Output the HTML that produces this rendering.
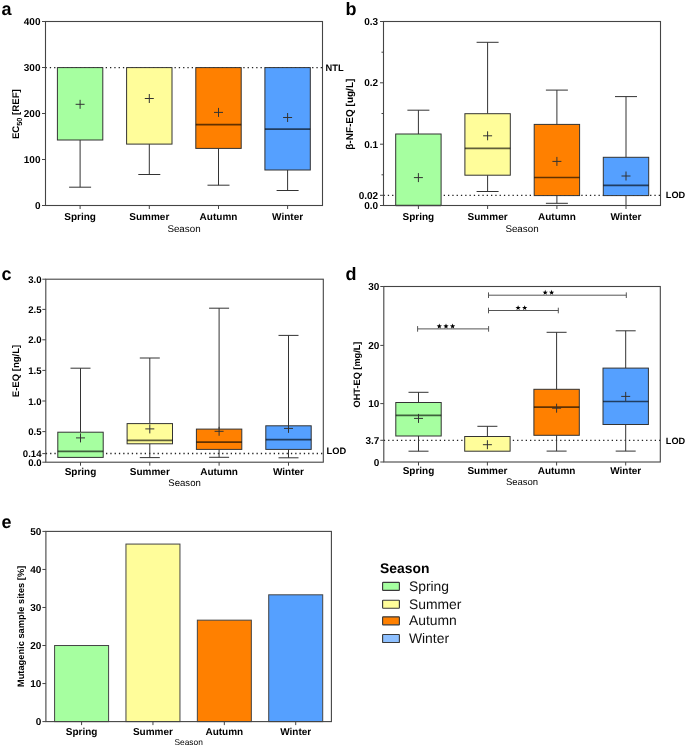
<!DOCTYPE html>
<html><head><meta charset="utf-8"><title>Seasonal comparison</title>
<style>
html,body{margin:0;padding:0;background:#fff;}
svg{display:block;font-family:"Liberation Sans", sans-serif;-webkit-font-smoothing:antialiased;will-change:transform;text-rendering:geometricPrecision;}
</style></head>
<body>
<svg width="685" height="746" viewBox="0 0 685 746">
<rect width="685" height="746" fill="#fff"/>
<line x1="45.5" y1="67.6" x2="322.5" y2="67.6" stroke="#222" stroke-width="1.3" stroke-dasharray="1.3 3" />
<line x1="80.1" y1="140" x2="80.1" y2="187.2" stroke="#333" stroke-width="1" />
<line x1="69.1" y1="187.2" x2="91.1" y2="187.2" stroke="#333" stroke-width="1" />
<rect x="57.4" y="67.6" width="45.4" height="72.4" fill="#A6FFA0" stroke="#333" stroke-width="1"/>
<line x1="75.6" y1="104.3" x2="84.6" y2="104.3" stroke="#333" stroke-width="1" />
<line x1="80.1" y1="99.8" x2="80.1" y2="108.8" stroke="#333" stroke-width="1" />
<line x1="149.3" y1="144.1" x2="149.3" y2="174.5" stroke="#333" stroke-width="1" />
<line x1="138.3" y1="174.5" x2="160.3" y2="174.5" stroke="#333" stroke-width="1" />
<rect x="126.6" y="67.6" width="45.4" height="76.5" fill="#FFFD9A" stroke="#333" stroke-width="1"/>
<line x1="144.8" y1="98.5" x2="153.8" y2="98.5" stroke="#333" stroke-width="1" />
<line x1="149.3" y1="94" x2="149.3" y2="103" stroke="#333" stroke-width="1" />
<line x1="218.5" y1="148.4" x2="218.5" y2="185.2" stroke="#333" stroke-width="1" />
<line x1="207.5" y1="185.2" x2="229.5" y2="185.2" stroke="#333" stroke-width="1" />
<rect x="195.8" y="67.6" width="45.4" height="80.8" fill="#FF8000" stroke="#333" stroke-width="1"/>
<line x1="195.8" y1="124.7" x2="241.2" y2="124.7" stroke="#000" stroke-width="1.7" stroke-opacity="0.62" />
<line x1="214" y1="112.4" x2="223" y2="112.4" stroke="#333" stroke-width="1" />
<line x1="218.5" y1="107.9" x2="218.5" y2="116.9" stroke="#333" stroke-width="1" />
<line x1="287.6" y1="170" x2="287.6" y2="190.5" stroke="#333" stroke-width="1" />
<line x1="276.6" y1="190.5" x2="298.6" y2="190.5" stroke="#333" stroke-width="1" />
<rect x="264.9" y="67.6" width="45.4" height="102.4" fill="#55A0FF" stroke="#333" stroke-width="1"/>
<line x1="264.9" y1="129.2" x2="310.3" y2="129.2" stroke="#000" stroke-width="1.7" stroke-opacity="0.62" />
<line x1="283.1" y1="117.5" x2="292.1" y2="117.5" stroke="#333" stroke-width="1" />
<line x1="287.6" y1="113" x2="287.6" y2="122" stroke="#333" stroke-width="1" />
<rect x="45.5" y="21.5" width="277" height="184" fill="none" stroke="#444" stroke-width="1.1"/>
<line x1="42" y1="205.5" x2="45.5" y2="205.5" stroke="#444" stroke-width="1" />
<text x="40.5" y="209.1" font-size="10" font-weight="bold" text-anchor="end" fill="#000" >0</text>
<line x1="42" y1="159.5" x2="45.5" y2="159.5" stroke="#444" stroke-width="1" />
<text x="40.5" y="163.1" font-size="10" font-weight="bold" text-anchor="end" fill="#000" >100</text>
<line x1="42" y1="113.5" x2="45.5" y2="113.5" stroke="#444" stroke-width="1" />
<text x="40.5" y="117.1" font-size="10" font-weight="bold" text-anchor="end" fill="#000" >200</text>
<line x1="42" y1="67.5" x2="45.5" y2="67.5" stroke="#444" stroke-width="1" />
<text x="40.5" y="71.1" font-size="10" font-weight="bold" text-anchor="end" fill="#000" >300</text>
<line x1="42" y1="21.5" x2="45.5" y2="21.5" stroke="#444" stroke-width="1" />
<text x="40.5" y="25.1" font-size="10" font-weight="bold" text-anchor="end" fill="#000" >400</text>
<line x1="80.1" y1="205.5" x2="80.1" y2="209" stroke="#444" stroke-width="1" />
<text x="80.1" y="219.6" font-size="10" font-weight="bold" text-anchor="middle" fill="#000" >Spring</text>
<line x1="149.3" y1="205.5" x2="149.3" y2="209" stroke="#444" stroke-width="1" />
<text x="149.3" y="219.6" font-size="10" font-weight="bold" text-anchor="middle" fill="#000" >Summer</text>
<line x1="218.5" y1="205.5" x2="218.5" y2="209" stroke="#444" stroke-width="1" />
<text x="218.5" y="219.6" font-size="10" font-weight="bold" text-anchor="middle" fill="#000" >Autumn</text>
<line x1="287.6" y1="205.5" x2="287.6" y2="209" stroke="#444" stroke-width="1" />
<text x="287.6" y="219.6" font-size="10" font-weight="bold" text-anchor="middle" fill="#000" >Winter</text>
<text x="184" y="232" font-size="9.8" font-weight="normal" text-anchor="middle" fill="#000" >Season</text>
<text x="325.6" y="71.2" font-size="9.3" font-weight="bold" text-anchor="start" fill="#000" >NTL</text>
<text transform="translate(19.3,114.2) rotate(-90)" font-size="9.6" font-weight="bold" text-anchor="middle" fill="#000">EC<tspan font-size="7.4" dy="2.2">50</tspan><tspan dy="-2.2"> [REF]</tspan></text>
<text x="1.5" y="15" font-size="18" font-weight="bold" text-anchor="start" fill="#000" >a</text>
<line x1="383.5" y1="195.4" x2="660.5" y2="195.4" stroke="#222" stroke-width="1.3" stroke-dasharray="1.3 3" />
<line x1="418.4" y1="110.2" x2="418.4" y2="134" stroke="#333" stroke-width="1" />
<line x1="407.4" y1="110.2" x2="429.4" y2="110.2" stroke="#333" stroke-width="1" />
<rect x="395.7" y="134" width="45.4" height="71.5" fill="#A6FFA0" stroke="#333" stroke-width="1"/>
<line x1="395.7" y1="205.5" x2="441.1" y2="205.5" stroke="#000" stroke-width="1.7" stroke-opacity="0.62" />
<line x1="413.9" y1="177.6" x2="422.9" y2="177.6" stroke="#333" stroke-width="1" />
<line x1="418.4" y1="173.1" x2="418.4" y2="182.1" stroke="#333" stroke-width="1" />
<line x1="487.6" y1="42.3" x2="487.6" y2="113.7" stroke="#333" stroke-width="1" />
<line x1="476.6" y1="42.3" x2="498.6" y2="42.3" stroke="#333" stroke-width="1" />
<line x1="487.6" y1="175.2" x2="487.6" y2="191.5" stroke="#333" stroke-width="1" />
<line x1="476.6" y1="191.5" x2="498.6" y2="191.5" stroke="#333" stroke-width="1" />
<rect x="464.9" y="113.7" width="45.4" height="61.5" fill="#FFFD9A" stroke="#333" stroke-width="1"/>
<line x1="464.9" y1="148.4" x2="510.3" y2="148.4" stroke="#000" stroke-width="1.7" stroke-opacity="0.62" />
<line x1="483.1" y1="135.8" x2="492.1" y2="135.8" stroke="#333" stroke-width="1" />
<line x1="487.6" y1="131.3" x2="487.6" y2="140.3" stroke="#333" stroke-width="1" />
<line x1="556.9" y1="90.1" x2="556.9" y2="124.4" stroke="#333" stroke-width="1" />
<line x1="545.9" y1="90.1" x2="567.9" y2="90.1" stroke="#333" stroke-width="1" />
<line x1="556.9" y1="195.6" x2="556.9" y2="203.3" stroke="#333" stroke-width="1" />
<line x1="545.9" y1="203.3" x2="567.9" y2="203.3" stroke="#333" stroke-width="1" />
<rect x="534.2" y="124.4" width="45.4" height="71.2" fill="#FF8000" stroke="#333" stroke-width="1"/>
<line x1="534.2" y1="177.5" x2="579.6" y2="177.5" stroke="#000" stroke-width="1.7" stroke-opacity="0.62" />
<line x1="552.4" y1="161.4" x2="561.4" y2="161.4" stroke="#333" stroke-width="1" />
<line x1="556.9" y1="156.9" x2="556.9" y2="165.9" stroke="#333" stroke-width="1" />
<line x1="626" y1="96.6" x2="626" y2="157.3" stroke="#333" stroke-width="1" />
<line x1="615" y1="96.6" x2="637" y2="96.6" stroke="#333" stroke-width="1" />
<line x1="626" y1="195.6" x2="626" y2="205.5" stroke="#333" stroke-width="1" />
<line x1="615" y1="205.5" x2="637" y2="205.5" stroke="#333" stroke-width="1" />
<rect x="603.3" y="157.3" width="45.4" height="38.3" fill="#55A0FF" stroke="#333" stroke-width="1"/>
<line x1="603.3" y1="185.4" x2="648.7" y2="185.4" stroke="#000" stroke-width="1.7" stroke-opacity="0.62" />
<line x1="621.5" y1="176" x2="630.5" y2="176" stroke="#333" stroke-width="1" />
<line x1="626" y1="171.5" x2="626" y2="180.5" stroke="#333" stroke-width="1" />
<rect x="383.5" y="21.5" width="277" height="184" fill="none" stroke="#444" stroke-width="1.1"/>
<line x1="380" y1="205.5" x2="383.5" y2="205.5" stroke="#444" stroke-width="1" />
<text x="378.2" y="209.1" font-size="10" font-weight="bold" text-anchor="end" fill="#000" >0.0</text>
<line x1="380" y1="195.3" x2="383.5" y2="195.3" stroke="#444" stroke-width="1" />
<text x="378.2" y="198.9" font-size="10" font-weight="bold" text-anchor="end" fill="#000" >0.02</text>
<line x1="380" y1="144.2" x2="383.5" y2="144.2" stroke="#444" stroke-width="1" />
<text x="378.2" y="147.8" font-size="10" font-weight="bold" text-anchor="end" fill="#000" >0.1</text>
<line x1="380" y1="82.8" x2="383.5" y2="82.8" stroke="#444" stroke-width="1" />
<text x="378.2" y="86.4" font-size="10" font-weight="bold" text-anchor="end" fill="#000" >0.2</text>
<line x1="380" y1="21.5" x2="383.5" y2="21.5" stroke="#444" stroke-width="1" />
<text x="378.2" y="25.1" font-size="10" font-weight="bold" text-anchor="end" fill="#000" >0.3</text>
<line x1="381.5" y1="174.8" x2="383.5" y2="174.8" stroke="#444" stroke-width="1" />
<line x1="381.5" y1="113.5" x2="383.5" y2="113.5" stroke="#444" stroke-width="1" />
<line x1="381.5" y1="52.2" x2="383.5" y2="52.2" stroke="#444" stroke-width="1" />
<line x1="418.4" y1="205.5" x2="418.4" y2="209" stroke="#444" stroke-width="1" />
<text x="418.4" y="219.9" font-size="10" font-weight="bold" text-anchor="middle" fill="#000" >Spring</text>
<line x1="487.6" y1="205.5" x2="487.6" y2="209" stroke="#444" stroke-width="1" />
<text x="487.6" y="219.9" font-size="10" font-weight="bold" text-anchor="middle" fill="#000" >Summer</text>
<line x1="556.9" y1="205.5" x2="556.9" y2="209" stroke="#444" stroke-width="1" />
<text x="556.9" y="219.9" font-size="10" font-weight="bold" text-anchor="middle" fill="#000" >Autumn</text>
<line x1="626" y1="205.5" x2="626" y2="209" stroke="#444" stroke-width="1" />
<text x="626" y="219.9" font-size="10" font-weight="bold" text-anchor="middle" fill="#000" >Winter</text>
<text x="522" y="232" font-size="9.8" font-weight="normal" text-anchor="middle" fill="#000" >Season</text>
<text x="665.8" y="197.8" font-size="9.2" font-weight="bold" text-anchor="start" fill="#000" >LOD</text>
<text transform="translate(353.2,114.2) rotate(-90)" font-size="10" font-weight="bold" text-anchor="middle" fill="#000">β-NF-EQ [ug/L]</text>
<text x="345.5" y="14.9" font-size="18" font-weight="bold" text-anchor="start" fill="#000" >b</text>
<line x1="45.8" y1="453.5" x2="323.3" y2="453.5" stroke="#222" stroke-width="1.3" stroke-dasharray="1.3 3" />
<line x1="80.5" y1="368.2" x2="80.5" y2="432.2" stroke="#333" stroke-width="1" />
<line x1="70.5" y1="368.2" x2="90.5" y2="368.2" stroke="#333" stroke-width="1" />
<rect x="57.8" y="432.2" width="45.4" height="25.2" fill="#A6FFA0" stroke="#333" stroke-width="1"/>
<line x1="57.8" y1="451.3" x2="103.2" y2="451.3" stroke="#000" stroke-width="1.7" stroke-opacity="0.62" />
<line x1="76" y1="437.9" x2="85" y2="437.9" stroke="#333" stroke-width="1" />
<line x1="80.5" y1="433.4" x2="80.5" y2="442.4" stroke="#333" stroke-width="1" />
<line x1="149.8" y1="358" x2="149.8" y2="423.6" stroke="#333" stroke-width="1" />
<line x1="139.8" y1="358" x2="159.8" y2="358" stroke="#333" stroke-width="1" />
<line x1="149.8" y1="443.8" x2="149.8" y2="457.6" stroke="#333" stroke-width="1" />
<line x1="139.8" y1="457.6" x2="159.8" y2="457.6" stroke="#333" stroke-width="1" />
<rect x="127.1" y="423.6" width="45.4" height="20.2" fill="#FFFD9A" stroke="#333" stroke-width="1"/>
<line x1="127.1" y1="440.3" x2="172.5" y2="440.3" stroke="#000" stroke-width="1.7" stroke-opacity="0.62" />
<line x1="145.3" y1="428.9" x2="154.3" y2="428.9" stroke="#333" stroke-width="1" />
<line x1="149.8" y1="424.4" x2="149.8" y2="433.4" stroke="#333" stroke-width="1" />
<line x1="219.1" y1="308.2" x2="219.1" y2="429.1" stroke="#333" stroke-width="1" />
<line x1="209.1" y1="308.2" x2="229.1" y2="308.2" stroke="#333" stroke-width="1" />
<line x1="219.1" y1="449.4" x2="219.1" y2="457.3" stroke="#333" stroke-width="1" />
<line x1="209.1" y1="457.3" x2="229.1" y2="457.3" stroke="#333" stroke-width="1" />
<rect x="196.4" y="429.1" width="45.4" height="20.3" fill="#FF8000" stroke="#333" stroke-width="1"/>
<line x1="196.4" y1="442.1" x2="241.8" y2="442.1" stroke="#000" stroke-width="1.7" stroke-opacity="0.62" />
<line x1="214.6" y1="431.3" x2="223.6" y2="431.3" stroke="#333" stroke-width="1" />
<line x1="219.1" y1="426.8" x2="219.1" y2="435.8" stroke="#333" stroke-width="1" />
<line x1="288.5" y1="335.4" x2="288.5" y2="425.8" stroke="#333" stroke-width="1" />
<line x1="278.5" y1="335.4" x2="298.5" y2="335.4" stroke="#333" stroke-width="1" />
<line x1="288.5" y1="449.4" x2="288.5" y2="457.8" stroke="#333" stroke-width="1" />
<line x1="278.5" y1="457.8" x2="298.5" y2="457.8" stroke="#333" stroke-width="1" />
<rect x="265.8" y="425.8" width="45.4" height="23.6" fill="#55A0FF" stroke="#333" stroke-width="1"/>
<line x1="265.8" y1="439.7" x2="311.2" y2="439.7" stroke="#000" stroke-width="1.7" stroke-opacity="0.62" />
<line x1="284" y1="428.4" x2="293" y2="428.4" stroke="#333" stroke-width="1" />
<line x1="288.5" y1="423.9" x2="288.5" y2="432.9" stroke="#333" stroke-width="1" />
<rect x="45.8" y="279.2" width="277.5" height="183" fill="none" stroke="#444" stroke-width="1.1"/>
<line x1="42.3" y1="462.2" x2="45.8" y2="462.2" stroke="#444" stroke-width="1" />
<text x="41.5" y="465.8" font-size="9.6" font-weight="bold" text-anchor="end" fill="#000" >0.0</text>
<line x1="42.3" y1="453.6" x2="45.8" y2="453.6" stroke="#444" stroke-width="1" />
<text x="41.5" y="457.2" font-size="9.6" font-weight="bold" text-anchor="end" fill="#000" >0.14</text>
<line x1="42.3" y1="431.6" x2="45.8" y2="431.6" stroke="#444" stroke-width="1" />
<text x="41.5" y="435.2" font-size="9.6" font-weight="bold" text-anchor="end" fill="#000" >0.5</text>
<line x1="42.3" y1="401" x2="45.8" y2="401" stroke="#444" stroke-width="1" />
<text x="41.5" y="404.6" font-size="9.6" font-weight="bold" text-anchor="end" fill="#000" >1.0</text>
<line x1="42.3" y1="370.4" x2="45.8" y2="370.4" stroke="#444" stroke-width="1" />
<text x="41.5" y="374" font-size="9.6" font-weight="bold" text-anchor="end" fill="#000" >1.5</text>
<line x1="42.3" y1="339.8" x2="45.8" y2="339.8" stroke="#444" stroke-width="1" />
<text x="41.5" y="343.4" font-size="9.6" font-weight="bold" text-anchor="end" fill="#000" >2.0</text>
<line x1="42.3" y1="309.4" x2="45.8" y2="309.4" stroke="#444" stroke-width="1" />
<text x="41.5" y="313" font-size="9.6" font-weight="bold" text-anchor="end" fill="#000" >2.5</text>
<line x1="42.3" y1="279.2" x2="45.8" y2="279.2" stroke="#444" stroke-width="1" />
<text x="41.5" y="282.8" font-size="9.6" font-weight="bold" text-anchor="end" fill="#000" >3.0</text>
<line x1="80.5" y1="462.2" x2="80.5" y2="465.7" stroke="#444" stroke-width="1" />
<text x="80.5" y="474.6" font-size="10" font-weight="bold" text-anchor="middle" fill="#000" >Spring</text>
<line x1="149.8" y1="462.2" x2="149.8" y2="465.7" stroke="#444" stroke-width="1" />
<text x="149.8" y="474.6" font-size="10" font-weight="bold" text-anchor="middle" fill="#000" >Summer</text>
<line x1="219.1" y1="462.2" x2="219.1" y2="465.7" stroke="#444" stroke-width="1" />
<text x="219.1" y="474.6" font-size="10" font-weight="bold" text-anchor="middle" fill="#000" >Autumn</text>
<line x1="288.5" y1="462.2" x2="288.5" y2="465.7" stroke="#444" stroke-width="1" />
<text x="288.5" y="474.6" font-size="10" font-weight="bold" text-anchor="middle" fill="#000" >Winter</text>
<text x="184.55" y="485.5" font-size="9.6" font-weight="normal" text-anchor="middle" fill="#000" >Season</text>
<text x="326.6" y="454.2" font-size="9.3" font-weight="bold" text-anchor="start" fill="#000" >LOD</text>
<text transform="translate(19,371) rotate(-90)" font-size="9.5" font-weight="bold" text-anchor="middle" fill="#000">E-EQ [ng/L]</text>
<text x="1.5" y="280.4" font-size="18" font-weight="bold" text-anchor="start" fill="#000" >c</text>
<line x1="383.8" y1="440.3" x2="660.3" y2="440.3" stroke="#222" stroke-width="1.3" stroke-dasharray="1.3 3" />
<line x1="418.5" y1="392.3" x2="418.5" y2="402.5" stroke="#333" stroke-width="1" />
<line x1="408.5" y1="392.3" x2="428.5" y2="392.3" stroke="#333" stroke-width="1" />
<line x1="418.5" y1="436" x2="418.5" y2="451.2" stroke="#333" stroke-width="1" />
<line x1="408.5" y1="451.2" x2="428.5" y2="451.2" stroke="#333" stroke-width="1" />
<rect x="395.8" y="402.5" width="45.4" height="33.5" fill="#A6FFA0" stroke="#333" stroke-width="1"/>
<line x1="395.8" y1="415.3" x2="441.2" y2="415.3" stroke="#000" stroke-width="1.7" stroke-opacity="0.62" />
<line x1="414" y1="418.4" x2="423" y2="418.4" stroke="#333" stroke-width="1" />
<line x1="418.5" y1="413.9" x2="418.5" y2="422.9" stroke="#333" stroke-width="1" />
<line x1="487.4" y1="426.3" x2="487.4" y2="436.5" stroke="#333" stroke-width="1" />
<line x1="477.4" y1="426.3" x2="497.4" y2="426.3" stroke="#333" stroke-width="1" />
<rect x="464.7" y="436.5" width="45.4" height="14.7" fill="#FFFD9A" stroke="#333" stroke-width="1"/>
<line x1="482.9" y1="444.7" x2="491.9" y2="444.7" stroke="#333" stroke-width="1" />
<line x1="487.4" y1="440.2" x2="487.4" y2="449.2" stroke="#333" stroke-width="1" />
<line x1="556.6" y1="332.3" x2="556.6" y2="389.3" stroke="#333" stroke-width="1" />
<line x1="546.6" y1="332.3" x2="566.6" y2="332.3" stroke="#333" stroke-width="1" />
<line x1="556.6" y1="435.3" x2="556.6" y2="451.1" stroke="#333" stroke-width="1" />
<line x1="546.6" y1="451.1" x2="566.6" y2="451.1" stroke="#333" stroke-width="1" />
<rect x="533.9" y="389.3" width="45.4" height="46" fill="#FF8000" stroke="#333" stroke-width="1"/>
<line x1="533.9" y1="407.2" x2="579.3" y2="407.2" stroke="#000" stroke-width="1.7" stroke-opacity="0.62" />
<line x1="552.1" y1="408.2" x2="561.1" y2="408.2" stroke="#333" stroke-width="1" />
<line x1="556.6" y1="403.7" x2="556.6" y2="412.7" stroke="#333" stroke-width="1" />
<line x1="625.7" y1="330.8" x2="625.7" y2="368.1" stroke="#333" stroke-width="1" />
<line x1="615.7" y1="330.8" x2="635.7" y2="330.8" stroke="#333" stroke-width="1" />
<line x1="625.7" y1="424.5" x2="625.7" y2="451.1" stroke="#333" stroke-width="1" />
<line x1="615.7" y1="451.1" x2="635.7" y2="451.1" stroke="#333" stroke-width="1" />
<rect x="603" y="368.1" width="45.4" height="56.4" fill="#55A0FF" stroke="#333" stroke-width="1"/>
<line x1="603" y1="401.5" x2="648.4" y2="401.5" stroke="#000" stroke-width="1.7" stroke-opacity="0.62" />
<line x1="621.2" y1="396.4" x2="630.2" y2="396.4" stroke="#333" stroke-width="1" />
<line x1="625.7" y1="391.9" x2="625.7" y2="400.9" stroke="#333" stroke-width="1" />
<rect x="383.8" y="286.5" width="276.5" height="175.5" fill="none" stroke="#444" stroke-width="1.1"/>
<line x1="380.3" y1="462" x2="383.8" y2="462" stroke="#444" stroke-width="1" />
<text x="379.4" y="465.6" font-size="10" font-weight="bold" text-anchor="end" fill="#000" >0</text>
<line x1="380.3" y1="440.3" x2="383.8" y2="440.3" stroke="#444" stroke-width="1" />
<text x="379.4" y="443.9" font-size="10" font-weight="bold" text-anchor="end" fill="#000" >3.7</text>
<line x1="380.3" y1="403.6" x2="383.8" y2="403.6" stroke="#444" stroke-width="1" />
<text x="379.4" y="407.2" font-size="10" font-weight="bold" text-anchor="end" fill="#000" >10</text>
<line x1="380.3" y1="345.4" x2="383.8" y2="345.4" stroke="#444" stroke-width="1" />
<text x="379.4" y="349" font-size="10" font-weight="bold" text-anchor="end" fill="#000" >20</text>
<line x1="380.3" y1="286.5" x2="383.8" y2="286.5" stroke="#444" stroke-width="1" />
<text x="379.4" y="290.1" font-size="10" font-weight="bold" text-anchor="end" fill="#000" >30</text>
<line x1="418.5" y1="462" x2="418.5" y2="465.5" stroke="#444" stroke-width="1" />
<text x="418.5" y="474.4" font-size="10" font-weight="bold" text-anchor="middle" fill="#000" >Spring</text>
<line x1="487.4" y1="462" x2="487.4" y2="465.5" stroke="#444" stroke-width="1" />
<text x="487.4" y="474.4" font-size="10" font-weight="bold" text-anchor="middle" fill="#000" >Summer</text>
<line x1="556.6" y1="462" x2="556.6" y2="465.5" stroke="#444" stroke-width="1" />
<text x="556.6" y="474.4" font-size="10" font-weight="bold" text-anchor="middle" fill="#000" >Autumn</text>
<line x1="625.7" y1="462" x2="625.7" y2="465.5" stroke="#444" stroke-width="1" />
<text x="625.7" y="474.4" font-size="10" font-weight="bold" text-anchor="middle" fill="#000" >Winter</text>
<text x="522.05" y="485" font-size="9.5" font-weight="normal" text-anchor="middle" fill="#000" >Season</text>
<text x="665.8" y="444.1" font-size="9.2" font-weight="bold" text-anchor="start" fill="#000" >LOD</text>
<text transform="translate(359.6,374.5) rotate(-90)" font-size="9.2" font-weight="bold" text-anchor="middle" fill="#000">OHT-EQ [mg/L]</text>
<text x="345.5" y="280.4" font-size="18" font-weight="bold" text-anchor="start" fill="#000" >d</text>
<line x1="417.6" y1="328.9" x2="488.6" y2="328.9" stroke="#555" stroke-width="1" />
<line x1="417.6" y1="326.1" x2="417.6" y2="331.7" stroke="#555" stroke-width="1" />
<line x1="488.6" y1="326.1" x2="488.6" y2="331.7" stroke="#555" stroke-width="1" />
<polygon points="439.3,323.55 439.98,325.37 441.92,325.45 440.4,326.66 440.92,328.52 439.3,327.45 437.68,328.52 438.2,326.66 436.68,325.45 438.62,325.37" fill="#000"/>
<polygon points="446,323.55 446.68,325.37 448.62,325.45 447.1,326.66 447.62,328.52 446,327.45 444.38,328.52 444.9,326.66 443.38,325.45 445.32,325.37" fill="#000"/>
<polygon points="452.6,323.55 453.28,325.37 455.22,325.45 453.7,326.66 454.22,328.52 452.6,327.45 450.98,328.52 451.5,326.66 449.98,325.45 451.92,325.37" fill="#000"/>
<line x1="488.5" y1="310.5" x2="558.3" y2="310.5" stroke="#555" stroke-width="1" />
<line x1="488.5" y1="307.7" x2="488.5" y2="313.3" stroke="#555" stroke-width="1" />
<line x1="558.3" y1="307.7" x2="558.3" y2="313.3" stroke="#555" stroke-width="1" />
<polygon points="518.1,305.15 518.78,306.97 520.72,307.05 519.2,308.26 519.72,310.12 518.1,309.05 516.48,310.12 517,308.26 515.48,307.05 517.42,306.97" fill="#000"/>
<polygon points="524.7,305.15 525.38,306.97 527.32,307.05 525.8,308.26 526.32,310.12 524.7,309.05 523.08,310.12 523.6,308.26 522.08,307.05 524.02,306.97" fill="#000"/>
<line x1="488.5" y1="295.2" x2="626.3" y2="295.2" stroke="#555" stroke-width="1" />
<line x1="488.5" y1="292.4" x2="488.5" y2="298" stroke="#555" stroke-width="1" />
<line x1="626.3" y1="292.4" x2="626.3" y2="298" stroke="#555" stroke-width="1" />
<polygon points="545.2,289.85 545.88,291.67 547.82,291.75 546.3,292.96 546.82,294.82 545.2,293.75 543.58,294.82 544.1,292.96 542.58,291.75 544.52,291.67" fill="#000"/>
<polygon points="551.6,289.85 552.28,291.67 554.22,291.75 552.7,292.96 553.22,294.82 551.6,293.75 549.98,294.82 550.5,292.96 548.98,291.75 550.92,291.67" fill="#000"/>
<rect x="54.59" y="645.52" width="54" height="76.08" fill="#A6FFA0" stroke="#444" stroke-width="1"/>
<rect x="125.96" y="544.07" width="54" height="177.53" fill="#FFFD9A" stroke="#444" stroke-width="1"/>
<rect x="197.34" y="620.15" width="54" height="101.45" fill="#FF8000" stroke="#444" stroke-width="1"/>
<rect x="268.71" y="594.81" width="54" height="126.79" fill="#55A0FF" stroke="#444" stroke-width="1"/>
<rect x="45.9" y="531.4" width="285.5" height="190.2" fill="none" stroke="#444" stroke-width="1.1"/>
<line x1="42.4" y1="721.6" x2="45.9" y2="721.6" stroke="#444" stroke-width="1" />
<text x="41.3" y="725.2" font-size="10" font-weight="bold" text-anchor="end" fill="#000" >0</text>
<line x1="42.4" y1="683.56" x2="45.9" y2="683.56" stroke="#444" stroke-width="1" />
<text x="41.3" y="687.16" font-size="10" font-weight="bold" text-anchor="end" fill="#000" >10</text>
<line x1="42.4" y1="645.52" x2="45.9" y2="645.52" stroke="#444" stroke-width="1" />
<text x="41.3" y="649.12" font-size="10" font-weight="bold" text-anchor="end" fill="#000" >20</text>
<line x1="42.4" y1="607.48" x2="45.9" y2="607.48" stroke="#444" stroke-width="1" />
<text x="41.3" y="611.08" font-size="10" font-weight="bold" text-anchor="end" fill="#000" >30</text>
<line x1="42.4" y1="569.44" x2="45.9" y2="569.44" stroke="#444" stroke-width="1" />
<text x="41.3" y="573.04" font-size="10" font-weight="bold" text-anchor="end" fill="#000" >40</text>
<line x1="42.4" y1="531.4" x2="45.9" y2="531.4" stroke="#444" stroke-width="1" />
<text x="41.3" y="535" font-size="10" font-weight="bold" text-anchor="end" fill="#000" >50</text>
<line x1="81.59" y1="721.6" x2="81.59" y2="725.1" stroke="#444" stroke-width="1" />
<text x="81.59" y="734.8" font-size="10" font-weight="bold" text-anchor="middle" fill="#000" >Spring</text>
<line x1="152.96" y1="721.6" x2="152.96" y2="725.1" stroke="#444" stroke-width="1" />
<text x="152.96" y="734.8" font-size="10" font-weight="bold" text-anchor="middle" fill="#000" >Summer</text>
<line x1="224.34" y1="721.6" x2="224.34" y2="725.1" stroke="#444" stroke-width="1" />
<text x="224.34" y="734.8" font-size="10" font-weight="bold" text-anchor="middle" fill="#000" >Autumn</text>
<line x1="295.71" y1="721.6" x2="295.71" y2="725.1" stroke="#444" stroke-width="1" />
<text x="295.71" y="734.8" font-size="10" font-weight="bold" text-anchor="middle" fill="#000" >Winter</text>
<text x="188.65" y="745" font-size="8.4" font-weight="normal" text-anchor="middle" fill="#000" >Season</text>
<text transform="translate(24,626.4) rotate(-90)" font-size="9.3" font-weight="bold" text-anchor="middle" fill="#000">Mutagenic sample sites [%]</text>
<text x="1.5" y="528.2" font-size="18" font-weight="bold" text-anchor="start" fill="#000" >e</text>
<text x="380" y="573" font-size="13.9" font-weight="bold" text-anchor="start" fill="#000" >Season</text>
<rect x="382.6" y="582.3" width="16.8" height="8" rx="0.6" fill="#A6FFA0" stroke="#3a3a3a" stroke-width="1.15"/>
<text x="408.9" y="590.9" font-size="13.9" font-weight="normal" text-anchor="start" fill="#111" >Spring</text>
<rect x="382.6" y="600.2" width="16.8" height="8" rx="0.6" fill="#FFFD9A" stroke="#3a3a3a" stroke-width="1.15"/>
<text x="408.9" y="608.8" font-size="13.9" font-weight="normal" text-anchor="start" fill="#111" >Summer</text>
<rect x="382.6" y="616.8" width="16.8" height="8" rx="0.6" fill="#FF8000" stroke="#3a3a3a" stroke-width="1.15"/>
<text x="408.9" y="625.4" font-size="13.9" font-weight="normal" text-anchor="start" fill="#111" >Autumn</text>
<rect x="382.6" y="634.5" width="16.8" height="8" rx="0.6" fill="#8EC0FF" stroke="#3a3a3a" stroke-width="1.15"/>
<text x="408.9" y="643.1" font-size="13.9" font-weight="normal" text-anchor="start" fill="#111" >Winter</text>
</svg>
</body></html>
